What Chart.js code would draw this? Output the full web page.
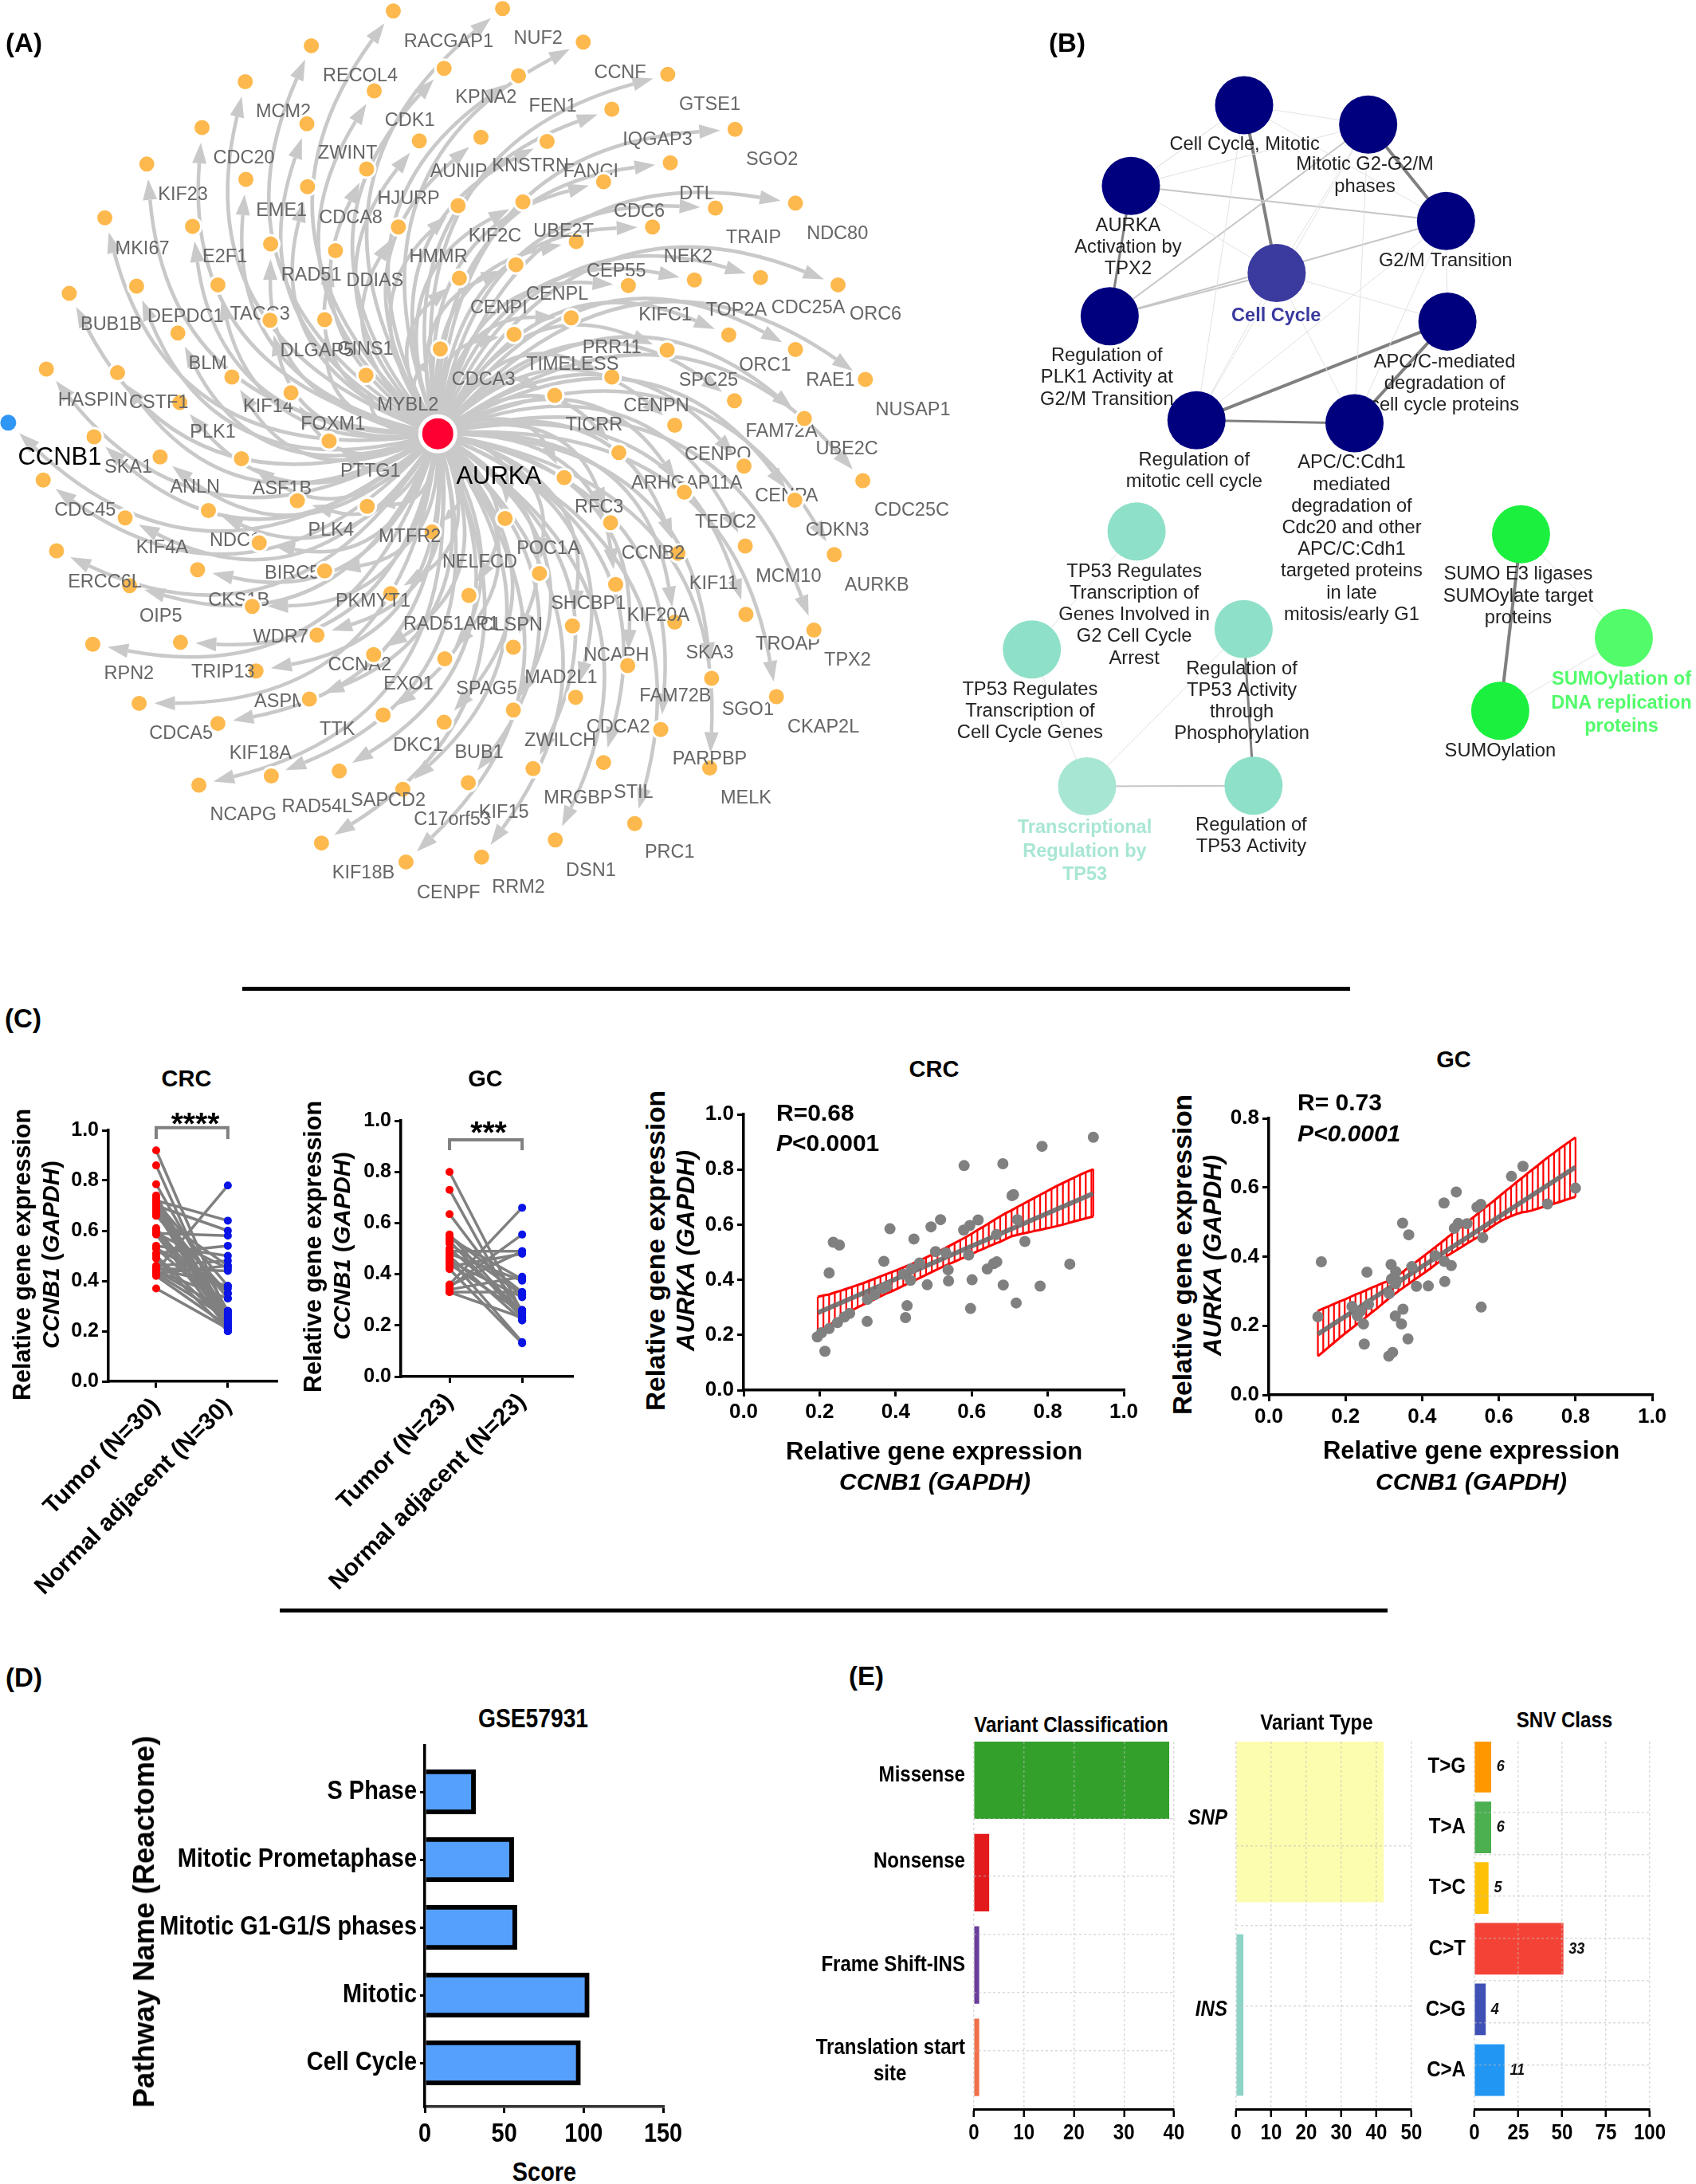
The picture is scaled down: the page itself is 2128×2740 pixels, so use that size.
<!DOCTYPE html>
<html>
<head>
<meta charset="utf-8">
<title>AURKA / CCNB1 figure</title>
<script src="https://cdn.jsdelivr.net/npm/chart.js@4"></script>
<style>
  body { margin: 0; background: #fff; }
  #page { position: relative; width: 2128px; height: 2740px; overflow: hidden; background: #fff; }
  #page canvas { position: absolute; }
  .t { position: absolute; white-space: nowrap; color: #000; }
  .rule { position: absolute; background: #000; height: 5px; }
</style>
</head>
<body>
<div id="page"></div>
<script>
// (A) network, node and label positions
const geneNodeX = [619,791,918,1051,699,816,490,589,963,1157,386,483,757,861,660,318,1055,577,950,231,484,387,823,721,1252,1126,165,1027,303,627,907,426,528,812,1319,1197,1093,723,989,215,109,343,899,511,425,280,809,1147,1252,1050,693,73,185,576,963,365,1362,1156,458,873,283,1266,1062,148,518,252,380,974,1358,68,888,1077,1171,328,468,578,1251,197,795,961,680,408,1067,1173,89,311,511,1313,849,204,969,397,615,738,1174,901,1062,284,146,499,1281,588,700,808,988,403,1120,219,487,906,1222,603,343,699,808,1040,950,427,534,839,1117,737,313,634,999,874,506,639,758];
const geneNodeY = [18,14,69,122,112,124,75,149,179,212,134,203,225,232,231,209,267,277,298,269,306,294,331,337,333,341,357,372,371,372,396,400,411,434,467,455,459,456,468,469,481,467,521,524,525,546,548,549,573,574,572,605,611,615,618,618,622,657,644,648,660,686,697,716,723,749,752,742,788,787,783,807,764,837,821,830,820,849,850,857,872,890,907,895,903,934,936,909,940,960,958,994,973,976,1007,1026,1020,1053,1056,1041,1033,1073,1080,1061,1091,1100,1112,1153,1146,1143,1142,1172,1186,1184,1164,1196,1250,1272,1264,1260,1259,1283,1287,1294,1350,1377,1382,1413,1405];
const geneNames = ["RACGAP1","NUF2","RECQL4","KPNA2","CCNF","MCM2","FEN1","GTSE1","CDK1","IQGAP3","ZWINT","CDC20","SGO2","AUNIP","KNSTRN","FANCI","HJURP","KIF23","DTL","EME1","CDCA8","CDC6","NDC80","TRAIP","KIF2C","UBE2T","MKI67","E2F1","HMMR","NEK2","RAD51","DDIAS","CEP55","CENPL","CDC25A","ORC6","TOP2A","KIFC1","BUB1B","DEPDC1","TACC3","CENPI","DLGAP5","GINS1","PRR11","TIMELESS","ORC1","SPC25","RAE1","BLM","CDCA3","HASPIN","CSTF1","KIF14","CENPN","MYBL2","NUSAP1","FOXM1","TICRR","PLK1","FAM72A","UBE2C","CENPO","SKA1","PTTG1","ANLN","ASF1B","ARHGAP11A","CENPA","RFC3","CDC45","CDC25C","TEDC2","CDKN3","PLK4","NDC1","MTFR2","KIF4A","CCNB2","POC1A","NELFCD","BIRC5","MCM10","KIF11","AURKB","ERCC6L","CKS1B","PKMYT1","SHCBP1","KIF20A","OIP5","RAD51AP1","CLSPN","WDR76","TROAP","SKA3","NCAPH","TPX2","CCNA2","TRIP13","RPN2","MAD2L1","SPAG5","EXO1","ASPM","FAM72B","SGO1","CDCA5","TTK","CKAP2L","CDCA2","ZWILCH","DKC1","KIF18A","BUB1","PARPBP","STIL","MRGBP","SAPCD2","RAD54L","MELK","C17orf53","KIF15","NCAPG","PRC1","DSN1","KIF18B","RRM2","CENPF"];
const geneLabelX = [706,847,567,765,976,446,870,1117,645,1035,547,384,1215,722,835,930,643,288,1097,443,552,1006,1318,1186,779,887,224,354,690,1083,490,590,970,877,1272,1378,1159,1047,175,292,409,785,499,575,963,901,1204,1115,1307,327,761,146,250,422,1033,642,1437,524,935,335,1230,1333,1130,202,583,307,444,1081,1238,943,134,1435,1142,1318,521,370,645,255,1028,863,755,460,1241,1123,1380,165,376,587,926,1036,253,710,805,450,1240,1117,970,1334,566,351,203,883,766,643,442,1063,1177,285,531,1296,973,882,658,410,754,1117,997,910,611,499,1174,712,793,383,1054,930,572,816,706];
const geneLabelY = [68,64,125,160,120,184,174,172,198,229,252,260,262,281,273,282,326,319,318,345,357,347,383,390,387,380,408,421,421,422,451,461,445,483,505,516,509,517,532,520,516,505,575,573,571,598,599,624,624,597,623,656,661,667,666,664,672,696,697,709,708,736,745,766,773,799,802,793,814,832,837,837,857,870,870,887,880,899,907,900,922,940,945,957,960,954,984,986,990,1009,1011,1024,1025,1045,1056,1071,1075,1083,1090,1102,1105,1111,1130,1122,1150,1141,1163,1203,1196,1193,1192,1214,1223,1236,1234,1245,1300,1309,1313,1323,1309,1344,1332,1336,1398,1427,1432,1455,1464];
// these sit over their neighbouring node, the others are cut by it
const labelsOverNodes = ["CSTF1","ERCC6L","TRIP13","PKMYT1","MTFR2","CCNB2","KIF20A","PARPBP","SAPCD2","UBE2T","TIMELESS","STIL"];
const hubNames = ["AURKA","CCNB1"];
const hubX = [689,13];
const hubY = [711,693];
const hubLabelX = [785,94];
const hubLabelY = [782,750];

// (B) term network
const termX = [610,873,370,1038,679,325,1041,509,844,382,160,609,277,630,1197,1415,1153];
const termY = [180,213,318,378,467,541,550,719,724,909,1111,1076,1345,1344,914,1091,1216];
const termColors = ["#00007f","#00007f","#00007f","#00007f","#3a3a9f","#00007f","#00007f","#00007f","#00007f","#8fe0c8","#8fe0c8","#8fe0c8","#a8e6d4","#8fe0c8","#1bf03f","#52fb6a","#1bf03f"];
const termLabels = [["Cell Cycle, Mitotic"],["Mitotic G2-G2/M","phases"],["AURKA","Activation by","TPX2"],["G2/M Transition"],["Cell Cycle"],["Regulation of","PLK1 Activity at","G2/M Transition"],["APC/C-mediated","degradation of","cell cycle proteins"],["Regulation of","mitotic cell cycle"],["APC/C:Cdh1","mediated","degradation of","Cdc20 and other","APC/C:Cdh1","targeted proteins","in late","mitosis/early G1"],["TP53 Regulates","Transcription of","Genes Involved in","G2 Cell Cycle","Arrest"],["TP53 Regulates","Transcription of","Cell Cycle Genes"],["Regulation of","TP53 Activity","through","Phosphorylation"],["Transcriptional","Regulation by","TP53"],["Regulation of","TP53 Activity"],["SUMO E3 ligases","SUMOylate target","proteins"],["SUMOylation of","DNA replication","proteins"],["SUMOylation"]];
const termLabelX = [611,866,364,1037,678,319,1035,504,838,377,156,605,272,625,1191,1410,1153];
const termLabelY = [247,282,386,447,540,609,619,787,792,978,1180,1144,1416,1412,983,1163,1285];
const keyTerms = [4,12,15];
const edgeFrom = [0,1,2,6,6,7,14,11, 5,5,2,2,5,0,0,0,1,1,1,4,4,0,3,3,1,3,9,10,11,12,14,15,2,4];
const edgeTo   = [4,3,5,7,8,8,16,13, 1,3,3,0,4,1,2,3,2,4,7,6,8,7,7,8,8,6,10,12,12,13,15,16,4,7];
const edgeWeight=[4,4,3,4,4,3,4,3, 2,2,2,1,2,1,1,1,1,1,1,1,1,1,1,1,1,1,1,1,1,2,1,1,1,1];

// (C) paired plots
const crcTumor  = [.92,.86,.785,.74,.73,.72,.715,.71,.70,.69,.68,.67,.66,.61,.60,.59,.585,.54,.53,.51,.49,.46,.45,.44,.44,.43,.43,.42,.37,.72,.70,.68,.67,.66,.60,.59,.53,.50,.45,.44];
const crcNormal = [.26,.22,.28,.21,.25,.64,.38,.24,.60,.33,.20,.35,.46,.27,.23,.58,.21,.50,.37,.54,.20,.48,.44,.78,.33,.25,.46,.22,.21,.20,.27,.22,.26,.35,.24,.45,.28,.23,.38,.28];
const gcTumor  = [.80,.73,.635,.555,.55,.54,.53,.52,.50,.49,.47,.46,.45,.43,.42,.36,.355,.35,.34,.33,.33,.48,.44];
const gcNormal = [.25,.22,.26,.24,.33,.38,.23,.32,.26,.49,.22,.135,.31,.48,.13,.66,.49,.555,.39,.23,.33,.375,.25];
const yTicksPaired = [0,.2,.4,.6,.8,1];

// (C) correlation plots
const crcX = [.92,.785,.58,.682,.706,.71,.72,.617,.518,.493,.595,.579,.385,.665,.74,.448,.236,.252,.505,.532,.592,.369,.463,.666,.658,.858,.641,.538,.225,.441,.42,.439,.539,.601,.683,.483,.78,.377,.367,.345,.326,.43,.717,.597,.325,.426,.279,.265,.247,.225,.205,.194,.214];
const crcY = [.917,.884,.814,.821,.705,.709,.618,.617,.618,.592,.597,.58,.585,.564,.539,.548,.536,.526,.502,.498,.49,.467,.461,.465,.459,.457,.439,.436,.425,.44,.42,.398,.396,.4,.381,.382,.377,.376,.369,.346,.329,.306,.316,.296,.249,.263,.278,.265,.245,.223,.208,.193,.141];
const crcFitX = [.195,.92];
const crcFitY = [.28,.713];
const crcBandX = [.195,.21,.225,.24,.255,.27,.285,.30,.315,.33,.345,.36,.375,.39,.405,.42,.435,.45,.465,.48,.495,.51,.525,.54,.555,.57,.585,.60,.615,.63,.645,.66,.675,.69,.705,.72,.735,.75,.765,.78,.795,.81,.825,.84,.855,.87,.885,.90,.915,.92];
const crcBandHi = [.338,.343,.347,.354,.36,.367,.374,.381,.388,.396,.404,.412,.42,.428,.436,.445,.453,.462,.471,.481,.491,.50,.511,.522,.533,.544,.555,.567,.58,.592,.605,.618,.63,.642,.652,.664,.675,.686,.697,.708,.719,.73,.741,.751,.761,.771,.781,.79,.798,.801];
const crcBandLo = [.204,.219,.234,.249,.263,.276,.289,.30,.31,.32,.33,.34,.35,.358,.368,.378,.388,.398,.408,.418,.428,.438,.448,.457,.466,.475,.484,.494,.503,.512,.521,.53,.538,.548,.558,.563,.568,.572,.577,.581,.586,.59,.595,.60,.606,.612,.617,.623,.628,.63];

const gcX = [.80,.727,.663,.633,.489,.457,.553,.543,.517,.494,.484,.349,.365,.558,.434,.458,.476,.373,.137,.319,.256,.331,.32,.333,.459,.385,.416,.314,.217,.26,.35,.554,.128,.231,.24,.33,.247,.346,.363,.249,.323,.313,.327,.331];
const gcY = [.598,.552,.661,.632,.587,.555,.551,.543,.495,.496,.482,.497,.463,.455,.403,.386,.374,.371,.385,.377,.355,.357,.335,.331,.328,.314,.315,.293,.256,.262,.248,.254,.226,.229,.243,.228,.205,.205,.162,.147,.123,.112,.34,.322];
const gcFitX = [.128,.80];
const gcFitY = [.176,.659];
const gcBandX = [.128,.142,.156,.17,.184,.198,.212,.226,.24,.254,.268,.282,.296,.31,.324,.338,.352,.366,.38,.394,.408,.422,.436,.45,.464,.478,.492,.506,.52,.534,.548,.562,.576,.59,.604,.618,.632,.646,.66,.674,.688,.702,.716,.73,.744,.758,.772,.786,.80];
const gcBandHi = [.243,.25,.256,.263,.27,.276,.283,.29,.296,.303,.31,.316,.323,.329,.336,.347,.358,.37,.381,.393,.405,.417,.429,.441,.454,.466,.478,.49,.502,.514,.527,.54,.552,.564,.577,.59,.602,.615,.627,.64,.652,.664,.677,.689,.70,.712,.723,.734,.745];
const gcBandLo = [.112,.125,.138,.151,.164,.177,.189,.201,.213,.225,.238,.25,.263,.276,.288,.30,.311,.322,.333,.344,.355,.366,.378,.39,.401,.411,.42,.43,.44,.449,.458,.47,.482,.493,.502,.51,.517,.523,.528,.53,.534,.539,.544,.548,.553,.558,.563,.568,.573];

// (D) pathway scores
const pathways = ["Cell Cycle","Mitotic","Mitotic G1-G1/S phases","Mitotic Prometaphase","S Phase"];
const pathwayScores = [98,103.5,58,56,32];

// (E) variants
const classNames = ["Missense","Nonsense","Frame Shift-INS",["Translation start","site           "]];
const classCounts = [39,3,1,1];
const classRows = [4,3,2,1];
const classTickRows = [4.055,3.12,2,.958];
const classGridRows = [3.55,2.72,1.87,1.04];
const classColors = ["#33a02c","#e31a1c","#6a3d9a","#f0704a"];
const typeNames = ["SNP","INS"];
const typeCounts = [42,2];
const typeRows = [2,1];
const typeTickRows = [2.016,1.028];
const typeGridRows = [1.872,1.045];
const typeColors = ["#fdfdaf","#8dd3c7"];
const snvNames = ["T>G","T>A","T>C","C>T","C>G","C>A"];
const snvPercent = [9.4,9.4,7.9,50.6,6.3,17];
const snvCounts = [6,6,5,33,4,11];
const snvRows = [6,5,4,3,2,1];
const snvGridRows = [5.2,4.37,3.55,2.72,1.88,1.04];
const snvColors = ["#ff9800","#4caf50","#ffc107","#f44336","#3f51b5","#2196f3"];

const page = document.getElementById('page');
const SANS = "'Liberation Sans', Arial, sans-serif";

function note(html, x, y, font, rot, align, squeeze) {
  const el = document.createElement('div');
  el.className = 't';
  el.innerHTML = html;
  el.style.left = x + 'px';
  el.style.top = y + 'px';
  el.style.font = font;
  const tx = align === 'left' ? '0' : '-50%';
  el.style.transform = `translate(${tx},-50%)` + (rot ? ` rotate(${rot}deg)` : '') + (squeeze ? ` scaleX(${squeeze})` : '');
  page.appendChild(el);
}

function rule(x0, x1, y) {
  const el = document.createElement('div');
  el.className = 'rule';
  el.style.left = x0 + 'px';
  el.style.width = (x1 - x0) + 'px';
  el.style.top = y + 'px';
  page.appendChild(el);
}

// puts a chart on the page so that its plot area lands on exactly [x0,y0,x1,y1]
function pinned(area, pad, cfg) {
  const [x0, y0, x1, y1] = area;
  const c = document.createElement('canvas');
  c.width = x1 - x0 + pad.l + pad.r;
  c.height = y1 - y0 + pad.t + pad.b;
  c.style.left = (x0 - pad.l) + 'px';
  c.style.top = (y0 - pad.t) + 'px';
  page.appendChild(c);
  if (pad.squeeze) {
    // the lower panels use a condensed bold face, no such font here
    const ctx = c.getContext('2d');
    const rawFill = ctx.fillText;
    ctx.fillText = function (s, x, y) {
      ctx.save();
      ctx.translate(x, y);
      ctx.scale(pad.squeeze, 1);
      rawFill.call(ctx, s, 0, 0);
      ctx.restore();
    };
  }
  const o = cfg.options;
  o.responsive = false;
  o.animation = false;
  o.devicePixelRatio = 1;
  o.layout = { autoPadding: false, padding: { top: pad.t, right: pad.r, left: 0, bottom: 0 } };
  o.plugins = { legend: { display: false }, tooltip: { enabled: false }, title: { display: false } };
  const noPad = s => { s.paddingLeft = s.paddingRight = s.paddingTop = s.paddingBottom = 0; };
  o.scales.x.afterFit = s => { s.height = pad.b; noPad(s); };
  o.scales.y.afterFit = s => { s.width = pad.l; noPad(s); };
  return new Chart(c, cfg);
}

function zip(xs, ys) { return xs.map((x, i) => ({ x: x, y: ys[i] })); }

// canvas that uses picture coordinates, for the two networks
function networkChart(area, datasets, drawUnder, drawOver) {
  return pinned(area, { l: 0, r: 0, t: 0, b: 0 }, {
    type: 'scatter',
    data: { datasets: datasets },
    options: {
      scales: {
        x: { type: 'linear', display: false, min: 0, max: 1568 },
        y: { type: 'linear', display: false, min: 0, max: 1568, reverse: true }
      }
    },
    plugins: [{ id: 'under', beforeDatasetsDraw: drawUnder, afterDatasetsDraw: drawOver || (() => {}) }]
  });
}

function geneLabel(ctx, chart, i) {
  ctx.fillText(geneNames[i], chart.scales.x.getPixelForValue(geneLabelX[i]), chart.scales.y.getPixelForValue(geneLabelY[i]));
}

// ---------- (A)
networkChart([0, 0, 1250, 1200], [
  { data: zip(hubX.slice(0, 1), hubY.slice(0, 1)), pointRadius: 22, backgroundColor: '#ff0033', borderColor: '#fff', borderWidth: 5, clip: false },
  { data: zip(hubX.slice(1), hubY.slice(1)), pointRadius: 10, backgroundColor: '#2f96f5', borderColor: '#fff', borderWidth: 0, clip: false },
  { data: zip(geneNodeX, geneNodeY), pointRadius: 11, backgroundColor: '#fdb94d', borderColor: '#fff', borderWidth: 3, clip: false }
], chart => {
  const ctx = chart.ctx, sx = chart.scales.x, sy = chart.scales.y;
  const cx = sx.getPixelForValue(hubX[0]), cy = sy.getPixelForValue(hubY[0]);
  const targets = zip(geneNodeX, geneNodeY).concat([{ x: hubX[1], y: hubY[1] }]);
  ctx.save();
  ctx.strokeStyle = '#c9c9c9';
  ctx.fillStyle = '#c9c9c9';
  ctx.lineWidth = 4.5;
  targets.forEach(n => {
    const tx = sx.getPixelForValue(n.x), ty = sy.getPixelForValue(n.y);
    const dx = tx - cx, dy = ty - cy, len = Math.hypot(dx, dy);
    // bends to the left of the way out from the hub
    const qx = (cx + tx) / 2 + dy * .45, qy = (cy + ty) / 2 - dx * .45;
    const ax = tx - qx, ay = ty - qy, al = Math.hypot(ax, ay);
    const ux = ax / al, uy = ay / al;
    const tipX = tx - ux * 19, tipY = ty - uy * 19;
    const head = len > 130 ? 26 : 16, half = len > 130 ? 9 : 6;
    const baseX = tipX - ux * head, baseY = tipY - uy * head;
    ctx.beginPath();
    ctx.moveTo(cx, cy);
    ctx.quadraticCurveTo(qx, qy, baseX, baseY);
    ctx.stroke();
    ctx.beginPath();
    ctx.moveTo(tipX, tipY);
    ctx.lineTo(baseX - uy * half, baseY + ux * half);
    ctx.lineTo(baseX + uy * half, baseY - ux * half);
    ctx.closePath();
    ctx.fill();
  });
  ctx.textAlign = 'center';
  ctx.textBaseline = 'middle';
  ctx.fillStyle = '#666';
  ctx.font = "23.5px " + SANS;
  geneNames.forEach((g, i) => {
    if (!labelsOverNodes.includes(g)) geneLabel(ctx, chart, i);
  });
  ctx.fillStyle = '#000';
  ctx.font = "31px " + SANS;
  hubNames.forEach((g, i) => {
    ctx.fillText(g, sx.getPixelForValue(hubLabelX[i]), sy.getPixelForValue(hubLabelY[i]));
  });
  ctx.restore();
}, chart => {
  const ctx = chart.ctx;
  ctx.save();
  ctx.textAlign = 'center';
  ctx.textBaseline = 'middle';
  ctx.fillStyle = '#666';
  ctx.font = "23.5px " + SANS;
  geneNames.forEach((g, i) => {
    if (labelsOverNodes.includes(g)) geneLabel(ctx, chart, i);
  });
  ctx.restore();
});

// ---------- (B)
networkChart([1200, 0, 2128, 1150], [
  { data: zip(termX, termY), pointRadius: 36.5, backgroundColor: termColors, borderWidth: 0, clip: false }
], chart => {
  const ctx = chart.ctx, sx = chart.scales.x, sy = chart.scales.y;
  ctx.save();
  edgeFrom.forEach((a, i) => {
    const w = edgeWeight[i];
    ctx.lineWidth = w === 1 ? 1 : w === 2 ? 2 : w === 3 ? 3 : 4;
    ctx.strokeStyle = w === 1 ? '#e2e2e2' : w === 2 ? '#c6c6c6' : '#808080';
    ctx.beginPath();
    ctx.moveTo(sx.getPixelForValue(termX[a]), sy.getPixelForValue(termY[a]));
    ctx.lineTo(sx.getPixelForValue(termX[edgeTo[i]]), sy.getPixelForValue(termY[edgeTo[i]]));
    ctx.stroke();
  });
  ctx.textAlign = 'center';
  ctx.textBaseline = 'middle';
  termLabels.forEach((lines, i) => {
    const key = keyTerms.includes(i);
    ctx.fillStyle = key ? termColors[i] : '#222';
    ctx.font = (key ? 'bold 23.5px ' : '23.7px ') + SANS;
    const step = key ? 29.5 : 27.2;
    lines.forEach((s, k) => {
      ctx.fillText(s, sx.getPixelForValue(termLabelX[i]), sy.getPixelForValue(termLabelY[i]) + k * step);
    });
  });
  ctx.restore();
});

// ---------- (C) paired plots
function pairedChart(area, tumor, normal, names, xRange, bracket) {
  const pairs = tumor.map((t, i) => ({
    data: [{ x: 1, y: t }, { x: 2, y: normal[i] }],
    showLine: true, borderColor: '#808080', borderWidth: 3.5, pointRadius: 0, order: 3
  }));
  pairs.push({ data: tumor.map(v => ({ x: 1, y: v })), pointRadius: 5, backgroundColor: '#f00', borderWidth: 0, order: 1 });
  pairs.push({ data: normal.map(v => ({ x: 2, y: v })), pointRadius: 5, backgroundColor: '#0a14e6', borderWidth: 0, order: 1 });
  pairs.push({
    data: [{ x: 1, y: bracket[1] }, { x: 1, y: bracket[0] }, { x: 2, y: bracket[0] }, { x: 2, y: bracket[1] }],
    showLine: true, borderColor: '#808080', borderWidth: 4, pointRadius: 0, order: 2, clip: false
  });
  return pinned(area, { l: 136, r: 10, t: 40, b: 300 }, {
    type: 'scatter',
    data: { datasets: pairs },
    options: {
      scales: {
        x: {
          type: 'linear', min: xRange[0], max: xRange[1],
          afterBuildTicks: s => { s.ticks = [{ value: 1 }, { value: 2 }]; },
          grid: { drawOnChartArea: false, color: '#000', lineWidth: 3, tickLength: 8 },
          border: { color: '#000', width: 3.5 },
          ticks: {
            color: '#000', font: { family: SANS, weight: 'bold', size: 30 }, padding: 6,
            minRotation: 45, maxRotation: 45, autoSkip: false,
            callback: v => names[v - 1]
          }
        },
        y: {
          type: 'linear', min: 0, max: 1,
          afterBuildTicks: s => { s.ticks = yTicksPaired.map(v => ({ value: v })); },
          grid: { drawOnChartArea: false, color: '#000', lineWidth: 3, tickLength: 8 },
          border: { color: '#000', width: 3.5 },
          ticks: { color: '#000', font: { family: SANS, weight: 'bold', size: 25 }, padding: 4, callback: v => v.toFixed(1) }
        }
      }
    }
  });
}
pairedChart([136, 1418, 347, 1733], crcTumor, crcNormal, ["Tumor (N=30)", "Normal adjacent (N=30)"], [.333, 2.68], [1.01, .965]);
pairedChart([503, 1406, 718, 1727], gcTumor, gcNormal, ["Tumor (N=23)", "Normal adjacent (N=23)"], [.33, 2.69], [.925, .885]);

// ---------- (C) correlation plots
function corrChart(area, xs, ys, fitX, fitY, bandX, hi, lo, yMax) {
  const sets = bandX.map((x, i) => ({
    data: [{ x: x, y: lo[i] }, { x: x, y: hi[i] }],
    showLine: true, borderColor: '#f00', borderWidth: 2.2, pointRadius: 0, order: 4
  }));
  sets.push({ data: zip(bandX, hi), showLine: true, borderColor: '#f00', borderWidth: 3, pointRadius: 0, order: 3 });
  sets.push({ data: zip(bandX, lo), showLine: true, borderColor: '#f00', borderWidth: 3, pointRadius: 0, order: 3 });
  sets.push({ data: zip(fitX, fitY), showLine: true, borderColor: 'rgba(105,105,105,.9)', borderWidth: 6, pointRadius: 0, order: 2 });
  sets.push({ data: zip(xs, ys), pointRadius: 7, backgroundColor: '#808080', borderWidth: 0, order: 1 });
  return pinned(area, { l: 60, r: 30, t: 20, b: 60 }, {
    type: 'scatter',
    data: { datasets: sets },
    options: {
      scales: {
        x: {
          type: 'linear', min: 0, max: 1,
          grid: { drawOnChartArea: false, color: '#000', lineWidth: 3, tickLength: 8 },
          border: { color: '#000', width: 3.5 },
          ticks: { stepSize: .2, color: '#000', font: { family: SANS, weight: 'bold', size: 26 }, padding: 4, maxRotation: 0, callback: v => v.toFixed(1) }
        },
        y: {
          type: 'linear', min: 0, max: yMax,
          grid: { drawOnChartArea: false, color: '#000', lineWidth: 3, tickLength: 8 },
          border: { color: '#000', width: 3.5 },
          ticks: { stepSize: .2, color: '#000', font: { family: SANS, weight: 'bold', size: 26 }, padding: 4, callback: v => v.toFixed(1) }
        }
      }
    }
  });
}
corrChart([933, 1398, 1410, 1744], crcX, crcY, crcFitX, crcFitY, crcBandX, crcBandHi, crcBandLo, 1);
corrChart([1592, 1403, 2073, 1750], gcX, gcY, gcFitX, gcFitY, gcBandX, gcBandHi, gcBandLo, .8);

// ---------- (D) and (E) horizontal bars on a numeric row axis
function barRows(area, pad, o) {
  const scales = {
    x: {
      type: 'linear', min: 0, max: o.xMax,
      grid: o.xGrid,
      border: o.xBorder,
      ticks: { stepSize: o.xStep, color: '#000', font: { family: SANS, weight: 'bold', size: o.tickX }, padding: o.xPad, maxRotation: 0, autoSkip: false }
    },
    y: {
      type: 'linear', offset: false, min: o.yRange[0], max: o.yRange[1],
      afterBuildTicks: s => { s.ticks = o.tickRows.map(v => ({ value: v })); },
      grid: Object.assign({ offset: false }, o.yGrid),
      border: o.yBorder,
      ticks: {
        color: '#000', autoSkip: false, padding: o.yPad,
        font: { family: SANS, weight: 'bold', size: o.tickY, style: o.italic ? 'italic' : 'normal' },
        callback: (v, i) => o.names[i]
      }
    }
  };
  if (o.gridRows) {
    scales.g = {
      axis: 'y', type: 'linear', position: 'left', min: o.yRange[0], max: o.yRange[1],
      afterBuildTicks: s => { s.ticks = o.gridRows.map(v => ({ value: v })); },
      afterFit: s => { s.width = 0; },
      grid: { color: 'rgba(190,190,190,.55)', lineWidth: 1.5, drawTicks: false, z: 1 },
      border: { display: false, dash: [3, 3] },
      ticks: { display: false }
    };
  }
  const plugins = o.valueLabels ? [{
    id: 'valueLabels',
    afterDatasetsDraw(chart) {
      const ctx = chart.ctx;
      ctx.save();
      ctx.fillStyle = '#111';
      ctx.font = "italic bold 21px " + SANS;
      ctx.textBaseline = 'middle';
      chart.getDatasetMeta(0).data.forEach((el, i) => ctx.fillText(o.valueLabels[i], el.x + 7, el.y));
      ctx.restore();
    }
  }] : [];
  return pinned(area, pad, {
    type: 'bar',
    data: {
      datasets: [{
        data: o.values.map((v, i) => ({ x: v, y: o.rows[i] })),
        backgroundColor: o.colors,
        borderColor: o.edge || 'transparent',
        borderWidth: o.edgeWidth || 0,
        borderSkipped: o.edge ? 'left' : false,
        barThickness: o.thick
      }]
    },
    options: { indexAxis: 'y', scales: scales },
    plugins: plugins
  });
}

barRows([533, 2188, 832, 2643], { l: 440, r: 30, t: 0, b: 60, squeeze: .85 }, {
  xMax: 150, xStep: 50, tickX: 34, xPad: 6, tickY: 34, yPad: 4,
  xGrid: { drawOnChartArea: false, color: '#000', lineWidth: 3, tickLength: 8 },
  xBorder: { color: '#333', width: 3.5 },
  yGrid: { drawOnChartArea: false, color: '#000', lineWidth: 3, tickLength: 6 },
  yBorder: { color: '#000', width: 3.5 },
  yRange: [.353, 5.706], rows: [1, 2, 3, 4, 5], tickRows: [1, 2, 3, 4, 5],
  names: pathways, values: pathwayScores, colors: '#559ffd', edge: '#000', edgeWidth: 6, thick: 56
});

const eGridX = { color: 'rgba(190,190,190,.55)', lineWidth: 1.5, tickColor: '#000', tickWidth: 2.5, tickLength: 10, z: 1 };
const eBorderX = { color: '#000', width: 3, dash: [3, 3], z: 2 };
const eGridY = { display: false };
const eBorderY = { display: false };

barRows([1222, 2185, 1473, 2646], { l: 215, r: 20, t: 0, b: 50, squeeze: .86 }, {
  xMax: 40, xStep: 10, tickX: 28, xPad: 3, tickY: 28, yPad: 3,
  xGrid: eGridX, xBorder: eBorderX, yGrid: eGridY, yBorder: eBorderY,
  yRange: [.44, 4.418], rows: classRows, tickRows: classTickRows, gridRows: classGridRows,
  names: classNames, values: classCounts, colors: classColors, thick: 96.5
});
barRows([1551, 2185, 1771, 2646], { l: 100, r: 20, t: 0, b: 50, squeeze: .86 }, {
  xMax: 50, xStep: 10, tickX: 28, xPad: 3, tickY: 28, yPad: 3, italic: true,
  xGrid: eGridX, xBorder: eBorderX, yGrid: eGridY, yBorder: eBorderY,
  yRange: [.514, 2.413], rows: typeRows, tickRows: typeTickRows, gridRows: typeGridRows,
  names: typeNames, values: typeCounts, colors: typeColors, thick: 202
});
barRows([1850, 2185, 2070, 2646], { l: 80, r: 30, t: 0, b: 50, squeeze: .86 }, {
  xMax: 100, xStep: 25, tickX: 28, xPad: 3, tickY: 28, yPad: 3,
  xGrid: eGridX, xBorder: eBorderX, yGrid: eGridY, yBorder: eBorderY,
  yRange: [.357, 6.413], rows: snvRows, tickRows: snvRows, gridRows: snvGridRows,
  names: snvNames, values: snvPercent, colors: snvColors, thick: 64, valueLabels: snvCounts
});

// ---------- text round the charts
const panelFont = "bold 33px " + SANS;
note("(A)", 30, 54, panelFont);
note("(B)", 1339, 54, panelFont);
note("(C)", 29, 1278, panelFont);
note("(D)", 30, 2105, panelFont);
note("(E)", 1087, 2103, panelFont);

rule(304, 1694, 1238);
rule(351, 1741, 2018);

note("CRC", 234, 1353, "bold 29px " + SANS);
note("GC", 609, 1353, "bold 29px " + SANS);
note("****", 245, 1410, "bold 39px " + SANS);
note("***", 613, 1421, "bold 39px " + SANS);
note("Relative gene expression", 27, 1574, "bold 30.5px " + SANS, -90);
note("<i>CCNB1</i> (<i>GAPDH</i>)", 64, 1574, "bold 29.5px " + SANS, -90);
note("Relative gene expression", 392, 1564, "bold 30.5px " + SANS, -90);
note("<i>CCNB1</i> (<i>GAPDH</i>)", 429, 1563, "bold 29.5px " + SANS, -90);

note("CRC", 1172, 1341, "bold 29px " + SANS);
note("R=0.68", 974, 1396, "bold 30px " + SANS, 0, 'left');
note("<i>P</i>&lt;0.0001", 974, 1434, "bold 30px " + SANS, 0, 'left');
note("Relative gene expression", 823, 1569, "bold 33.5px " + SANS, -90);
note("<i>AURKA (GAPDH)</i>", 861, 1569, "bold 31px " + SANS, -90);
note("Relative gene expression", 1172, 1821, "bold 31px " + SANS);
note("<i>CCNB1 (GAPDH)</i>", 1173, 1859, "bold 30px " + SANS);

note("GC", 1824, 1329, "bold 29px " + SANS);
note("R= 0.73", 1628, 1383, "bold 30px " + SANS, 0, 'left');
note("<i>P&lt;0.0001</i>", 1628, 1422, "bold 30px " + SANS, 0, 'left');
note("Relative gene expression", 1484, 1574, "bold 33.5px " + SANS, -90);
note("<i>AURKA (GAPDH)</i>", 1522, 1575, "bold 31px " + SANS, -90);
note("Relative gene expression", 1846, 1820, "bold 31px " + SANS);
note("<i>CCNB1 (GAPDH)</i>", 1846, 1859, "bold 30px " + SANS);

note("GSE57931", 669, 2155, "bold 34px " + SANS, 0, 'center', .83);
note("Pathway Name (Reactome)", 181, 2411, "bold 36.5px " + SANS, -90);
note("Score", 683, 2724, "bold 34px " + SANS, 0, 'center', .85);

note("Variant Classification", 1344, 2164, "bold 28px " + SANS, 0, 'center', .86);
note("Variant Type", 1652, 2161, "bold 28px " + SANS, 0, 'center', .86);
note("SNV Class", 1963, 2158, "bold 28px " + SANS, 0, 'center', .86);
</script>
</body>
</html>
